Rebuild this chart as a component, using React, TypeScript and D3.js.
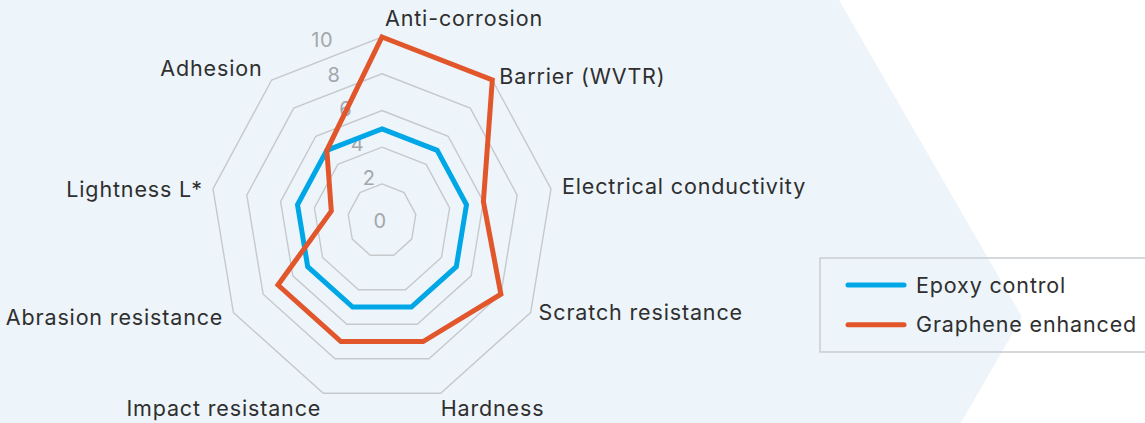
import React from "react";
import * as d3 from "d3";

const categories = [
  "Anti-corrosion",
  "Barrier (WVTR)",
  "Electrical conductivity",
  "Scratch resistance",
  "Hardness",
  "Impact resistance",
  "Abrasion resistance",
  "Lightness L*",
  "Adhesion",
];
const epoxyControl = [5, 5, 5, 5, 5, 5, 5, 5, 5];
const grapheneEnhanced = [10, 10, 6, 8, 7, 7, 7, 3, 5];
const ringTicks = [2, 4, 6, 8, 10];
const tickLabels = [0, 2, 4, 6, 8, 10];
const seriesNames = ["Epoxy control", "Graphene enhanced"];

// layout / style (not data)
const W = 1145;
const H = 423;
const CX = 382;
const CY = 220.7;
const RX = 171.6;
const RY = 183.7;
const COLORS = ["#00a7e6", "#e2562b"];
const FONT = "Inter, 'Open Sans', sans-serif";
const FS = 21.5;
const LS = 0.85;
const LABEL_NUDGE: [number, number, string][] = [
  [3, -11, "start"],
  [7, 4, "start"],
  [11, 5, "start"],
  [8, 7.5, "start"],
  [0, 23, "start"],
  [-3, 23, "end"],
  [-11, 12.5, "end"],
  [-11, 8, "end"],
  [-10, -4, "end"],
];

export default function App() {
  const rx = d3.scaleLinear().domain([0, 10]).range([0, RX]);
  const ry = d3.scaleLinear().domain([0, 10]).range([0, RY]);
  const angle = d3
    .scaleLinear()
    .domain([0, categories.length])
    .range([0, 2 * Math.PI]);

  const pt = (i: number, v: number): [number, number] => {
    const a = angle(i);
    return [CX + rx(v) * Math.sin(a), CY - ry(v) * Math.cos(a)];
  };

  const line = d3.line<[number, number]>().curve(d3.curveLinearClosed);

  const ringPath = (v: number) => line(categories.map((_, i) => pt(i, v))) || "";
  const seriesPath = (vals: number[]) => line(vals.map((v, i) => pt(i, v))) || "";

  const tickAngle = (-20 * Math.PI) / 180;
  const tickPos = (v: number): [number, number] => {
    if (v === 0) return [CX - 2, CY];
    return [
      CX + rx(v) * Math.sin(tickAngle) - 1,
      CY - ry(v) * Math.cos(tickAngle) - 8,
    ];
  };

  // background chevron
  const tipX = 1022;
  const tipY = 317;
  const t30 = Math.tan(Math.PI / 6);
  const bg = [
    [0, 0],
    [tipX - tipY * t30, 0],
    [tipX, tipY],
    [tipX - (H - tipY) * t30, H],
    [0, H],
  ];

  const legendX = 820;
  const legendY = 258;
  const legendRow = 39.7;

  return (
    <svg
      width={W}
      height={H}
      style={{ position: "absolute", left: 0, top: 0, background: "#fff" }}
      fontFamily={FONT}
    >
      <polygon points={bg.map((p) => p.join(",")).join(" ")} fill="#edf4fa" />
      {ringTicks.map((v) => (
        <path key={v} d={ringPath(v)} fill="none" stroke="#c6c9cc" strokeWidth={1.4} />
      ))}
      {tickLabels.map((v) => {
        const [x, y] = tickPos(v);
        return (
          <text
            key={v}
            x={x}
            y={y}
            textAnchor="middle"
            dominantBaseline="central"
            fontSize={20}
            letterSpacing={0.6}
            fill="#a3a7ab"
          >
            {v}
          </text>
        );
      })}
      {[epoxyControl, grapheneEnhanced].map((vals, k) => (
        <path
          key={k}
          d={seriesPath(vals)}
          fill="none"
          stroke={COLORS[k]}
          strokeWidth={5}
          strokeLinejoin="miter"
        />
      ))}
      {categories.map((c, i) => {
        const [x, y] = pt(i, 10);
        const [dx, dy, anchor] = LABEL_NUDGE[i];
        return (
          <text
            key={c}
            x={x + dx + (anchor === "end" ? LS : 0)}
            y={y + dy}
            textAnchor={anchor}
            fontSize={FS}
            letterSpacing={LS}
            fill="#2f2f2f"
          >
            {c}
          </text>
        );
      })}
      <rect
        x={legendX}
        y={legendY}
        width={W - legendX + 10}
        height={94}
        fill="none"
        stroke="#c9cdd1"
        strokeWidth={1.5}
      />
      {seriesNames.map((s, k) => {
        const y = legendY + 27 + k * legendRow;
        return (
          <g key={s}>
            <line
              x1={legendX + 28}
              x2={legendX + 84}
              y1={y}
              y2={y}
              stroke={COLORS[k]}
              strokeWidth={5}
              strokeLinecap="round"
            />
            <text
              x={legendX + 96}
              y={y + 7.5}
              fontSize={FS}
              letterSpacing={LS}
              fill="#2f2f2f"
            >
              {s}
            </text>
          </g>
        );
      })}
    </svg>
  );
}
